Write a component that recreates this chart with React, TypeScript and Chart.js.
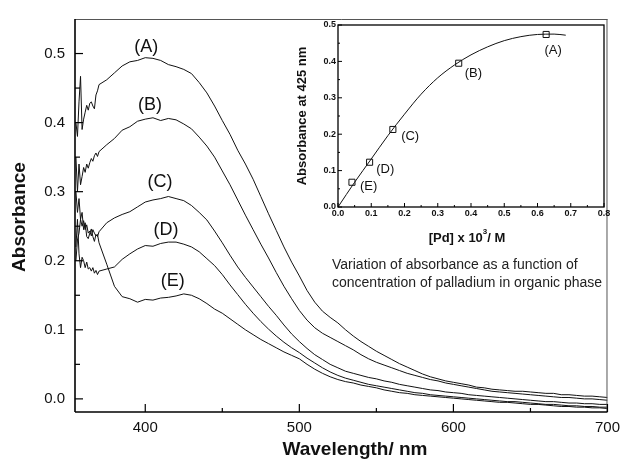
import React, { useEffect, useRef } from "react";
import { Chart, registerables } from "chart.js";

Chart.register(...registerables);

const FONT = '"Liberation Sans", Arial, Helvetica, sans-serif';

// ---------- Main spectra ----------
const WAVELENGTH = [
  355, 356, 357, 358, 359, 360, 361, 362, 363, 364, 365, 366, 367, 368, 369, 370,
  375, 380, 385, 390, 395, 400, 405, 410, 415, 420, 425, 430, 435, 440, 445, 450,
  455, 460, 465, 470, 475, 480, 485, 490, 495, 500, 505, 510, 515, 520, 525, 530,
  535, 540, 545, 550, 555, 560, 565, 570, 575, 580, 585, 590, 595, 600, 605, 610,
  615, 620, 625, 630, 635, 640, 645, 650, 655, 660, 665, 670, 675, 680, 685, 690,
  695, 700,
];

const SERIES_A = [
  0.400, 0.380, 0.430, 0.467, 0.390, 0.405, 0.415, 0.425, 0.418, 0.428, 0.430, 0.424, 0.420, 0.440, 0.446, 0.455,
  0.462, 0.472, 0.482, 0.488, 0.490, 0.494, 0.493, 0.490, 0.484, 0.481, 0.477, 0.471, 0.458, 0.443, 0.424, 0.403,
  0.383, 0.360, 0.340, 0.318, 0.293, 0.268, 0.244, 0.220, 0.198, 0.178, 0.157, 0.140, 0.127, 0.118, 0.110, 0.100,
  0.091, 0.083, 0.076, 0.069, 0.063, 0.057, 0.051, 0.046, 0.041, 0.036, 0.032, 0.029, 0.026, 0.024, 0.022, 0.020,
  0.017, 0.016, 0.014, 0.013, 0.012, 0.011, 0.011, 0.010, 0.009, 0.008, 0.008, 0.006, 0.006, 0.005, 0.004, 0.004,
  0.003, 0.002,
];

const SERIES_B = [
  0.350, 0.300, 0.340, 0.310, 0.322, 0.335, 0.328, 0.340, 0.334, 0.342, 0.348, 0.344, 0.352, 0.356, 0.351, 0.358,
  0.368, 0.377, 0.389, 0.394, 0.402, 0.405, 0.407, 0.403, 0.406, 0.404, 0.398, 0.391, 0.379, 0.366, 0.350, 0.330,
  0.310, 0.288, 0.266, 0.245, 0.224, 0.204, 0.183, 0.163, 0.145, 0.128, 0.114, 0.103, 0.095, 0.089, 0.083, 0.077,
  0.071, 0.064, 0.058, 0.053, 0.049, 0.045, 0.041, 0.037, 0.034, 0.031, 0.028, 0.026, 0.023, 0.021, 0.019, 0.017,
  0.015, 0.013, 0.011, 0.010, 0.009, 0.008, 0.007, 0.006, 0.005, 0.004, 0.003, 0.002, 0.002, 0.001, 0.000, 0.000,
  -0.001, -0.002,
];

const SERIES_C = [
  0.300, 0.270, 0.290, 0.260, 0.270, 0.245, 0.255, 0.235, 0.232, 0.240, 0.246, 0.235, 0.228, 0.238, 0.235, 0.242,
  0.255, 0.262, 0.267, 0.271, 0.278, 0.285, 0.288, 0.290, 0.293, 0.290, 0.287, 0.280, 0.270, 0.259, 0.243, 0.226,
  0.208, 0.191, 0.176, 0.162, 0.148, 0.134, 0.121, 0.107, 0.094, 0.083, 0.073, 0.064, 0.057, 0.050, 0.045, 0.040,
  0.037, 0.034, 0.031, 0.029, 0.026, 0.024, 0.021, 0.019, 0.017, 0.015, 0.013, 0.012, 0.010, 0.009, 0.008, 0.006,
  0.005, 0.004, 0.003, 0.002, 0.001, 0.000, -0.001, -0.002, -0.003, -0.004, -0.004, -0.005, -0.006, -0.006, -0.007, -0.007,
  -0.008, -0.008,
];

const SERIES_D = [
  0.220, 0.260, 0.210, 0.190, 0.205, 0.200, 0.190, 0.198, 0.188, 0.190, 0.185, 0.190, 0.182, 0.186, 0.180, 0.185,
  0.188, 0.191, 0.202, 0.210, 0.217, 0.222, 0.221, 0.225, 0.227, 0.227, 0.224, 0.220, 0.213, 0.203, 0.193, 0.180,
  0.165, 0.151, 0.137, 0.124, 0.112, 0.101, 0.091, 0.082, 0.074, 0.067, 0.059, 0.052, 0.045, 0.039, 0.034, 0.030,
  0.027, 0.024, 0.021, 0.019, 0.017, 0.015, 0.013, 0.011, 0.009, 0.008, 0.006, 0.005, 0.004, 0.003, 0.002, 0.001,
  0.000, -0.001, -0.002, -0.003, -0.004, -0.004, -0.005, -0.006, -0.007, -0.008, -0.008, -0.009, -0.010, -0.010, -0.011, -0.011,
  -0.012, -0.012,
];

const SERIES_E = [
  0.200, 0.230, 0.240, 0.260, 0.250, 0.258, 0.245, 0.252, 0.240, 0.243, 0.236, 0.245, 0.240, 0.236, 0.238, 0.226,
  0.195, 0.163, 0.148, 0.145, 0.140, 0.144, 0.143, 0.146, 0.147, 0.149, 0.152, 0.150, 0.145, 0.138, 0.130, 0.124,
  0.116, 0.108, 0.100, 0.093, 0.086, 0.080, 0.074, 0.068, 0.063, 0.058, 0.050, 0.043, 0.037, 0.032, 0.028, 0.025,
  0.023, 0.020, 0.018, 0.016, 0.013, 0.011, 0.009, 0.008, 0.006, 0.005, 0.004, 0.003, 0.002, 0.001, 0.000, -0.001,
  -0.002, -0.003, -0.004, -0.005, -0.005, -0.006, -0.007, -0.008, -0.008, -0.009, -0.010, -0.011, -0.011, -0.012, -0.012, -0.013,
  -0.013, -0.014,
];

const SERIES_NAMES = ["(A)", "(B)", "(C)", "(D)", "(E)"];
// label anchors in data units (wavelength, absorbance)
const SERIES_LABEL_X = [400.6, 403.1, 409.5, 413.5, 417.9];
const SERIES_LABEL_Y = [0.509, 0.426, 0.314, 0.245, 0.170];

const MAIN_X_TICKS = [400, 500, 600, 700];
const MAIN_X_MINOR = [450, 550, 650];
const MAIN_Y_TICKS = [0.0, 0.1, 0.2, 0.3, 0.4, 0.5];
const MAIN_Y_MINOR = [0.05, 0.15, 0.25, 0.35, 0.45];

// ---------- Inset: absorbance at 425 nm vs [Pd] ----------
const PD_CONC = [0.626, 0.363, 0.165, 0.095, 0.042];
const ABS_425 = [0.474, 0.395, 0.213, 0.123, 0.068];
const POINT_NAMES = ["(A)", "(B)", "(C)", "(D)", "(E)"];
const POINT_LABEL_X = [0.647, 0.407, 0.217, 0.142, 0.092];
const POINT_LABEL_Y = [0.431, 0.367, 0.193, 0.102, 0.056];

const FIT_X = [0, 0.05, 0.1, 0.15, 0.2, 0.25, 0.3, 0.35, 0.4, 0.45, 0.5, 0.55, 0.6, 0.65, 0.685];
const FIT_Y = [0, 0.068, 0.132, 0.196, 0.255, 0.31, 0.355, 0.39, 0.418, 0.44, 0.457, 0.468, 0.474, 0.475, 0.472];

const INSET_X_TICKS = [0, 0.1, 0.2, 0.3, 0.4, 0.5, 0.6, 0.7, 0.8];
const INSET_X_MINOR = [0.05, 0.15, 0.25, 0.35, 0.45, 0.55, 0.65, 0.75];
const INSET_Y_TICKS = [0, 0.1, 0.2, 0.3, 0.4, 0.5];
const INSET_Y_MINOR = [0.05, 0.15, 0.25, 0.35, 0.45];

function line(ctx: CanvasRenderingContext2D, x1: number, y1: number, x2: number, y2: number) {
  ctx.beginPath();
  ctx.moveTo(x1, y1);
  ctx.lineTo(x2, y2);
  ctx.stroke();
}

const mainDecor = {
  id: "mainDecor",
  afterDraw(chart: any) {
    const { ctx, chartArea, scales } = chart;
    const { left, right, top, bottom } = chartArea;
    const xs = scales.x;
    const ys = scales.y;
    ctx.save();
    // frame
    ctx.strokeStyle = "#555";
    ctx.lineWidth = 1;
    line(ctx, left, top + 0.5, right, top + 0.5);
    line(ctx, right - 0.5, top, right - 0.5, bottom);
    ctx.strokeStyle = "#000";
    ctx.lineWidth = 1.6;
    line(ctx, left, bottom, right, bottom);
    line(ctx, left, top, left, bottom);
    // inward ticks
    ctx.lineWidth = 1.2;
    MAIN_X_TICKS.forEach((v) => {
      const p = xs.getPixelForValue(v);
      line(ctx, p, bottom, p, bottom - 8);
    });
    MAIN_X_MINOR.forEach((v) => {
      const p = xs.getPixelForValue(v);
      line(ctx, p, bottom, p, bottom - 4);
    });
    MAIN_Y_TICKS.forEach((v) => {
      const p = ys.getPixelForValue(v);
      line(ctx, left, p, left + 8, p);
    });
    MAIN_Y_MINOR.forEach((v) => {
      const p = ys.getPixelForValue(v);
      line(ctx, left, p, left + 5, p);
    });
    // series labels
    ctx.fillStyle = "#111";
    ctx.font = `18px ${FONT}`;
    ctx.textAlign = "center";
    ctx.textBaseline = "middle";
    SERIES_NAMES.forEach((t, i) => {
      ctx.fillText(t, xs.getPixelForValue(SERIES_LABEL_X[i]), ys.getPixelForValue(SERIES_LABEL_Y[i]));
    });
    // axis titles
    ctx.font = `bold 19px ${FONT}`;
    ctx.fillText("Wavelength/ nm", 355, 450);
    ctx.save();
    ctx.translate(20, 217);
    ctx.rotate(-Math.PI / 2);
    ctx.fillText("Absorbance", 0, 0);
    ctx.restore();
    ctx.restore();
  },
};

const insetDecor = {
  id: "insetDecor",
  afterDraw(chart: any) {
    const { ctx, chartArea, scales } = chart;
    const { left, right, top, bottom } = chartArea;
    const xs = scales.x;
    const ys = scales.y;
    ctx.save();
    ctx.strokeStyle = "#000";
    ctx.lineWidth = 1.3;
    ctx.strokeRect(left, top, right - left, bottom - top);
    ctx.lineWidth = 1;
    INSET_X_TICKS.forEach((v) => {
      const p = xs.getPixelForValue(v);
      line(ctx, p, bottom, p, bottom - 4);
    });
    INSET_X_MINOR.forEach((v) => {
      const p = xs.getPixelForValue(v);
      line(ctx, p, bottom, p, bottom - 2);
    });
    INSET_Y_TICKS.forEach((v) => {
      const p = ys.getPixelForValue(v);
      line(ctx, left, p, left + 4, p);
    });
    INSET_Y_MINOR.forEach((v) => {
      const p = ys.getPixelForValue(v);
      line(ctx, left, p, left + 2, p);
    });
    // point labels
    ctx.fillStyle = "#111";
    ctx.font = `13px ${FONT}`;
    ctx.textAlign = "center";
    ctx.textBaseline = "middle";
    POINT_NAMES.forEach((t, i) => {
      ctx.fillText(t, xs.getPixelForValue(POINT_LABEL_X[i]), ys.getPixelForValue(POINT_LABEL_Y[i]));
    });
    // y title
    ctx.font = `bold 13px ${FONT}`;
    ctx.save();
    ctx.translate(12, (top + bottom) / 2);
    ctx.rotate(-Math.PI / 2);
    ctx.fillText("Absorbance at 425 nm", 0, 0);
    ctx.restore();
    // x title with superscript
    const p1 = "[Pd] x 10";
    const p2 = "3";
    const p3 = "/ M";
    ctx.font = `bold 13px ${FONT}`;
    const w1 = ctx.measureText(p1).width;
    const w3 = ctx.measureText(p3).width;
    ctx.font = `bold 8px ${FONT}`;
    const w2 = ctx.measureText(p2).width;
    const total = w1 + w2 + w3;
    let cx = 177 - total / 2;
    const cy = 223;
    ctx.textAlign = "left";
    ctx.font = `bold 13px ${FONT}`;
    ctx.fillText(p1, cx, cy);
    cx += w1;
    ctx.font = `bold 8px ${FONT}`;
    ctx.fillText(p2, cx, cy - 6);
    cx += w2;
    ctx.font = `bold 13px ${FONT}`;
    ctx.fillText(p3, cx, cy);
    // caption
    ctx.font = `14px ${FONT}`;
    ctx.fillStyle = "#222";
    ctx.fillText("Variation of absorbance as a function of", 42, 250);
    ctx.fillText("concentration of palladium in organic phase", 42, 268);
    ctx.restore();
  },
};

export default function App() {
  const mainRef = useRef<HTMLCanvasElement>(null);
  const insetRef = useRef<HTMLCanvasElement>(null);

  useEffect(() => {
    Chart.defaults.font.family = FONT;
    const seriesList = [SERIES_A, SERIES_B, SERIES_C, SERIES_D, SERIES_E];
    const main = new Chart(mainRef.current as HTMLCanvasElement, {
      type: "line",
      data: {
        datasets: seriesList.map((s, k) => ({
          label: SERIES_NAMES[k],
          data: WAVELENGTH.map((x, i) => ({ x, y: s[i] })),
          borderColor: "#111",
          borderWidth: 1,
          pointRadius: 0,
          tension: 0,
          fill: false,
        })),
      },
      options: {
        animation: false,
        responsive: false,
        devicePixelRatio: 1,
        layout: { padding: { left: 0, right: 14, top: 14, bottom: 0 } },
        plugins: { legend: { display: false }, tooltip: { enabled: false } },
        scales: {
          x: {
            type: "linear",
            min: 354.4,
            max: 700,
            afterBuildTicks: (s: any) => {
              s.ticks = MAIN_X_TICKS.map((v) => ({ value: v }));
            },
            afterFit: (s: any) => {
              s.height = 55;
            },
            grid: { display: false, drawTicks: false },
            border: { display: false },
            ticks: {
              color: "#111",
              padding: 7,
              maxRotation: 0,
              font: { family: FONT, size: 15 },
              callback: (v: any) => String(v),
            },
          },
          y: {
            type: "linear",
            min: -0.019,
            max: 0.55,
            afterBuildTicks: (s: any) => {
              s.ticks = MAIN_Y_TICKS.map((v) => ({ value: v }));
            },
            afterFit: (s: any) => {
              s.width = 75;
            },
            grid: { display: false, drawTicks: false },
            border: { display: false },
            ticks: {
              color: "#111",
              padding: 10,
              font: { family: FONT, size: 15 },
              callback: (v: any) => Number(v).toFixed(1),
            },
          },
        },
      },
      plugins: [mainDecor],
    } as any);

    const inset = new Chart(insetRef.current as HTMLCanvasElement, {
      type: "line",
      data: {
        datasets: [
          {
            label: "fit",
            data: FIT_X.map((x, i) => ({ x, y: FIT_Y[i] })),
            borderColor: "#111",
            borderWidth: 1,
            pointRadius: 0,
            cubicInterpolationMode: "monotone",
            fill: false,
          },
          {
            type: "scatter",
            label: "points",
            data: PD_CONC.map((x, i) => ({ x, y: ABS_425[i] })),
            pointStyle: "rect",
            pointRadius: 4.3,
            borderColor: "#111",
            borderWidth: 1,
            backgroundColor: "rgba(255,255,255,0)",
            showLine: false,
          },
        ],
      },
      options: {
        animation: false,
        responsive: false,
        devicePixelRatio: 1,
        layout: { padding: { left: 0, right: 11, top: 10, bottom: 0 } },
        plugins: { legend: { display: false }, tooltip: { enabled: false } },
        scales: {
          x: {
            type: "linear",
            min: 0,
            max: 0.8,
            afterBuildTicks: (s: any) => {
              s.ticks = INSET_X_TICKS.map((v) => ({ value: v }));
            },
            afterFit: (s: any) => {
              s.height = 88;
            },
            grid: { display: false, drawTicks: false },
            border: { display: false },
            ticks: {
              color: "#111",
              padding: 1,
              maxRotation: 0,
              autoSkip: false,
              font: { family: FONT, size: 9, weight: "bold" },
              callback: (v: any) => Number(v).toFixed(1),
            },
          },
          y: {
            type: "linear",
            min: 0,
            max: 0.5,
            afterBuildTicks: (s: any) => {
              s.ticks = INSET_Y_TICKS.map((v) => ({ value: v }));
            },
            afterFit: (s: any) => {
              s.width = 48;
            },
            grid: { display: false, drawTicks: false },
            border: { display: false },
            ticks: {
              color: "#111",
              padding: 2,
              font: { family: FONT, size: 9, weight: "bold" },
              callback: (v: any) => Number(v).toFixed(1),
            },
          },
        },
      },
      plugins: [insetDecor],
    } as any);

    return () => {
      main.destroy();
      inset.destroy();
    };
  }, []);

  return (
    <div style={{ position: "fixed", left: 0, top: 0, width: 627, height: 467, background: "#fff" }}>
      <canvas ref={mainRef} width={627} height={467} style={{ position: "absolute", left: 0, top: 0 }} />
      <canvas ref={insetRef} width={325} height={280} style={{ position: "absolute", left: 290, top: 15 }} />
    </div>
  );
}
